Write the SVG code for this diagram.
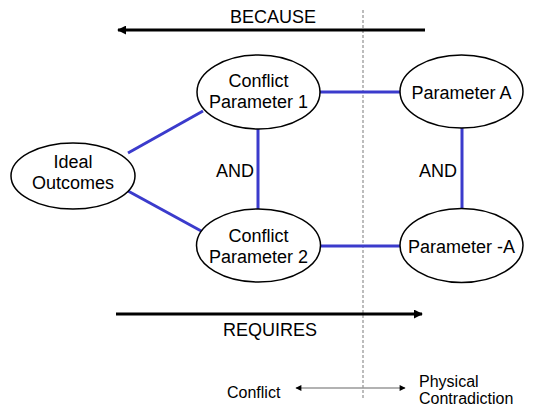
<svg xmlns="http://www.w3.org/2000/svg" width="533" height="415" viewBox="0 0 533 415">
<defs>
<style>
text{font-family:"Liberation Sans",Arial,sans-serif;fill:#000}
.lbl{font-size:18px}
.sm{font-size:16px}
.node ellipse{fill:#fff;stroke:#000;stroke-width:1.5}
.link{stroke:#3b3bcc;stroke-width:3;fill:none}
</style>
<marker id="ah" viewBox="0 0 10 10" refX="9" refY="5" markerWidth="3" markerHeight="3" orient="auto-start-reverse" markerUnits="strokeWidth"><path d="M0,0 L10,5 L0,10 z" fill="#000"/></marker>
<marker id="ahs" viewBox="0 0 10 10" refX="9" refY="5" markerWidth="7" markerHeight="6" orient="auto-start-reverse" markerUnits="userSpaceOnUse"><path d="M0,0 L10,5 L0,10 z" fill="#000"/></marker>
</defs>
<rect width="533" height="415" fill="#fff"/>
<line x1="363" y1="10" x2="363" y2="398" stroke="#999" stroke-width="1.3" stroke-dasharray="3,2"/>
<g id="connectors">
<line class="link" x1="128" y1="153" x2="203" y2="111"/>
<line class="link" x1="128" y1="191" x2="203" y2="232"/>
<line class="link" x1="258" y1="129" x2="258" y2="209"/>
<line class="link" x1="320" y1="92" x2="400" y2="92"/>
<line class="link" x1="320" y1="246" x2="400" y2="246"/>
<line class="link" x1="462" y1="128" x2="462" y2="208"/>
<line x1="425" y1="30" x2="118" y2="30" stroke="#000" stroke-width="3" marker-end="url(#ah)"/>
<line x1="116" y1="314" x2="422" y2="314" stroke="#000" stroke-width="3" marker-end="url(#ah)"/>
<line x1="296" y1="388" x2="405" y2="388" stroke="#999" stroke-width="1.5" marker-start="url(#ahs)" marker-end="url(#ahs)"/>
</g>
<g id="ideal" class="node"><ellipse cx="73" cy="176" rx="62" ry="33"/>
<text class="lbl" x="73" y="168" text-anchor="middle">Ideal</text>
<text class="lbl" x="73" y="189" text-anchor="middle">Outcomes</text></g>
<g id="cp1" class="node"><ellipse cx="258.5" cy="92" rx="61.5" ry="37"/>
<text class="lbl" x="258.5" y="87" text-anchor="middle">Conflict</text>
<text class="lbl" x="258.5" y="108" text-anchor="middle">Parameter 1</text></g>
<g id="cp2" class="node"><ellipse cx="258.5" cy="245.5" rx="62" ry="36.5"/>
<text class="lbl" x="258.5" y="242" text-anchor="middle">Conflict</text>
<text class="lbl" x="258.5" y="263" text-anchor="middle">Parameter 2</text></g>
<g id="pa" class="node"><ellipse cx="461.5" cy="91.5" rx="61.5" ry="36.5"/>
<text class="lbl" x="461.5" y="99" text-anchor="middle">Parameter A</text></g>
<g id="pna" class="node"><ellipse cx="461.5" cy="245.5" rx="61.5" ry="37"/>
<text class="lbl" x="461.5" y="253" text-anchor="middle">Parameter -A</text></g>
<text class="lbl" x="235" y="177" text-anchor="middle">AND</text>
<text class="lbl" x="438" y="177" text-anchor="middle">AND</text>
<text class="lbl" x="273" y="23" text-anchor="middle">BECAUSE</text>
<text class="lbl" x="270" y="336" text-anchor="middle">REQUIRES</text>
<text class="sm" x="227" y="398">Conflict</text>
<text class="sm" x="419" y="387">Physical</text>
<text class="sm" x="419" y="404">Contradiction</text>
</svg>
